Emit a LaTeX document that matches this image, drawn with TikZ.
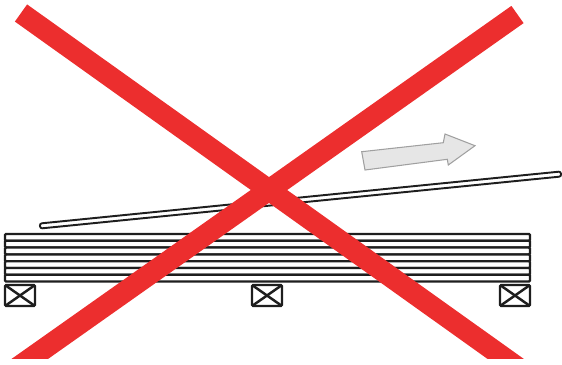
\documentclass[tikz,border=0pt]{standalone}
\usepackage{xcolor}
\usepackage{tikz}
\usetikzlibrary{calc}
\definecolor{mycross}{RGB}{236,46,46}
\definecolor{mydark}{RGB}{30,30,30}
\definecolor{myarrowfill}{RGB}{230,230,230}
\definecolor{myarrowline}{RGB}{160,160,160}
\tikzset{
  board/.style={draw=mydark, fill=white, line width=1.3pt, rounded corners=0.6},
  crate/.style={draw=mydark, fill=white, line width=1.4pt, rounded corners=0.8},
  slidingboard/.style={draw=mydark, fill=white, line width=1.1pt, rounded corners=1.2},
  pusharrow/.style={draw=myarrowline, fill=myarrowfill, line width=0.6pt, line join=miter},
  crossline/.style={draw=mycross, line width=12pt, line cap=butt}
}

\begin{document}
\begin{tikzpicture}[x=0.02cm, y=-0.02cm]
  \useasboundingbox (0,0) rectangle (562,365);

  % Stack of boards
  \foreach \i in {0,...,6} {
    \draw[board] (5,{234+\i*6.8}) rectangle (530,{234+(\i+1)*6.8});
  }

  % Supports under the stack
  \foreach \sx/\name in {5/left, 252/mid, 500/right} {
    \coordinate (sup\name) at (\sx,285);
    \draw[crate] (sup\name) rectangle ++(30,21);
    \draw[mydark, line width=1.4pt] (sup\name) -- ++(30,21);
    \draw[mydark, line width=1.4pt] ($(sup\name)+(0,21)$) -- ++(30,-21);
  }

  % Board being pulled off the stack
  \draw[slidingboard] (39.75,223.5) -- (560.75,171.5) -- (561.25,176.5)
    -- (40.25,228.5) -- cycle;

  % Direction of movement
  \draw[pusharrow] (361.7,151.7) -- (443.3,142.7) -- (445,134) -- (475,145.7)
    -- (448.3,165) -- (447.3,159.3) -- (365,170) -- cycle;

  % Big red cross
  \begin{scope}
    \clip (0,0) rectangle (562,358);
    \draw[crossline] (21,13) -- ($(21,13)!2.2!(269,190)$);
    \draw[crossline] (517.5,14.5) -- ($(517.5,14.5)!2.2!(269,190)$);
  \end{scope}
\end{tikzpicture}
\end{document}
